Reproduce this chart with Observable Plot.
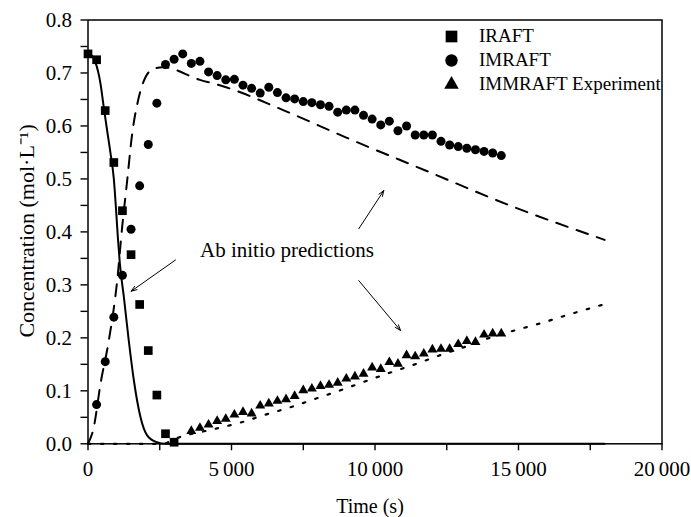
<!DOCTYPE html>
<html>
<head>
<meta charset="utf-8">
<script src="https://cdn.jsdelivr.net/npm/d3@7"></script>
<script src="https://cdn.jsdelivr.net/npm/@observablehq/plot@0.6"></script>
<style>
  html, body { margin: 0; padding: 0; background: #fff; }
  #chart { width: 691px; height: 517px; }
</style>
</head>
<body>
<div id="chart"></div>
<script>
// ---- Data ----
const timeSquare = [0, 300, 600, 900, 1200, 1500, 1800, 2100, 2400, 2700, 3000];
const iraft = [0.736, 0.725, 0.629, 0.531, 0.440, 0.357, 0.263, 0.176, 0.092, 0.019, 0.003];

const timeCircle = [300, 600, 900, 1200, 1500, 1800, 2100, 2400, 2700, 3000, 3300, 3600, 3900, 4200, 4500, 4800, 5100, 5400, 5700, 6000, 6300, 6600, 6900, 7200, 7500, 7800, 8100, 8400, 8700, 9000, 9300, 9600, 9900, 10200, 10500, 10800, 11100, 11400, 11700, 12000, 12300, 12600, 12900, 13200, 13500, 13800, 14100, 14400];
const imraft = [0.074, 0.155, 0.239, 0.318, 0.405, 0.487, 0.565, 0.643, 0.716, 0.726, 0.736, 0.718, 0.722, 0.702, 0.695, 0.687, 0.688, 0.677, 0.671, 0.662, 0.673, 0.663, 0.653, 0.651, 0.646, 0.644, 0.640, 0.637, 0.626, 0.630, 0.630, 0.620, 0.613, 0.602, 0.609, 0.591, 0.600, 0.583, 0.583, 0.583, 0.571, 0.564, 0.561, 0.558, 0.555, 0.552, 0.549, 0.544];

const timeTriangle = [3600, 3900, 4200, 4500, 4800, 5100, 5400, 5700, 6000, 6300, 6600, 6900, 7200, 7500, 7800, 8100, 8400, 8700, 9000, 9300, 9600, 9900, 10200, 10500, 10800, 11100, 11400, 11700, 12000, 12300, 12600, 12900, 13200, 13500, 13800, 14100, 14400];
const immraft = [0.024, 0.030, 0.036, 0.043, 0.047, 0.055, 0.060, 0.057, 0.072, 0.076, 0.081, 0.084, 0.090, 0.101, 0.104, 0.109, 0.111, 0.115, 0.123, 0.127, 0.132, 0.144, 0.141, 0.154, 0.151, 0.167, 0.165, 0.170, 0.178, 0.179, 0.179, 0.188, 0.194, 0.192, 0.206, 0.208, 0.208];

// Ab initio prediction curves
const predIraftTime = [0, 260, 435, 550, 670, 780, 900, 980, 1040, 1110, 1250, 1420, 1600, 1830, 2060, 2400, 2700, 18000];
const predIraft = [0.740, 0.720, 0.680, 0.635, 0.590, 0.550, 0.500, 0.440, 0.390, 0.340, 0.277, 0.195, 0.119, 0.050, 0.016, 0.003, 0.000, 0.000];

const predImraftTime = [0, 200, 435, 725, 1017, 1190, 1365, 1539, 1770, 2003, 2293, 2600, 3900, 4700, 6800, 9000, 11800, 14600, 18000];
const predImraft = [0.000, 0.031, 0.113, 0.195, 0.308, 0.409, 0.497, 0.585, 0.654, 0.692, 0.708, 0.711, 0.687, 0.675, 0.630, 0.578, 0.515, 0.452, 0.385];

const predImmraftTime = [0, 2600, 3050, 4417, 5313, 6184, 7055, 7926, 8797, 9668, 10563, 11445, 12306, 13187, 14048, 14929, 15800, 16695, 17577, 18030];
const predImmraft = [0.000, 0.000, 0.010, 0.028, 0.040, 0.055, 0.069, 0.085, 0.101, 0.118, 0.135, 0.151, 0.168, 0.184, 0.201, 0.215, 0.228, 0.243, 0.257, 0.264];

// Axes
const xTicks = [0, 5000, 10000, 15000, 20000];
const xTickLabels = ["0", "5\u2009000", "10\u2009000", "15\u2009000", "20\u2009000"];
const xMinorTicks = [2500, 7500, 12500, 17500];
const yTicks = [0, 0.1, 0.2, 0.3, 0.4, 0.5, 0.6, 0.7, 0.8];
const yTickLabels = ["0.0", "0.1", "0.2", "0.3", "0.4", "0.5", "0.6", "0.7", "0.8"];
const yMinorTicks = [0.05, 0.15, 0.25, 0.35, 0.45, 0.55, 0.65, 0.75];

// Legend
const legendLabels = ["IRAFT", "IMRAFT", "IMMRAFT Experiment"];
const legendSymbols = ["square", "circle", "triangle"];

// Annotation
const annotationText = ["Ab initio predictions"];
const annotationTextX = [6930];
const annotationTextY = [0.365];
const arrowX1 = [3049, 9435, 9435];
const arrowY1 = [0.347, 0.406, 0.308];
const arrowX2 = [1505, 10306, 10888];
const arrowY2 = [0.288, 0.478, 0.214];

// ---- Build tables ----
const sq = timeSquare.map((t, i) => ({t, v: iraft[i]}));
const ci = timeCircle.map((t, i) => ({t, v: imraft[i]}));
const tr = timeTriangle.map((t, i) => ({t, v: immraft[i]}));
const p1 = predIraftTime.map((t, i) => ({t, v: predIraft[i]}));
const p2 = predImraftTime.map((t, i) => ({t, v: predImraft[i]}));
const p3 = predImmraftTime.map((t, i) => ({t, v: predImmraft[i]}));
const arrows = arrowX1.map((x1, i) => ({x1, y1: arrowY1[i], x2: arrowX2[i], y2: arrowY2[i]}));
const ann = annotationText.map((s, i) => ({s, x: annotationTextX[i], y: annotationTextY[i]}));

const legendRows = legendLabels.map((label, i) => ({label, symbol: legendSymbols[i], i}));
const legendR = {square: 6.6, circle: 6.2, triangle: 5.4};
const legendDy = [16.5, 40.5, 64.5];

const FONT = "Liberation Serif, Times New Roman, serif";

const marks = [
  Plot.frame({stroke: "black", strokeWidth: 1.5}),
  // axes
  Plot.axisX({ticks: xTicks, tickSize: 7, tickPadding: 10, strokeWidth: 1.4,
    tickFormat: d => xTickLabels[xTicks.indexOf(d)], label: null}),
  Plot.axisX({ticks: xMinorTicks, tickSize: 7, strokeWidth: 1.4, tickFormat: () => "", label: null}),
  Plot.axisY({ticks: yTicks, tickSize: 7, tickPadding: 9, strokeWidth: 1.4,
    tickFormat: d => yTickLabels[yTicks.findIndex(v => Math.abs(v - d) < 1e-9)], label: null}),
  Plot.axisY({ticks: yMinorTicks, tickSize: 7, strokeWidth: 1.4, tickFormat: () => "", label: null}),
  // prediction lines
  Plot.line(p3, {x: "t", y: "v", stroke: "black", strokeWidth: 2.2, strokeDasharray: "2.5,10.5", curve: "monotone-x"}),
  Plot.line(p2, {x: "t", y: "v", stroke: "black", strokeWidth: 2, strokeDasharray: "12,9.5", curve: "monotone-x"}),
  Plot.line(p1, {x: "t", y: "v", stroke: "black", strokeWidth: 2, curve: "monotone-x"}),
  // data
  Plot.dot(sq, {x: "t", y: "v", symbol: "square", r: 4.9, fill: "black"}),
  Plot.dot(ci, {x: "t", y: "v", symbol: "circle", r: 4.5, fill: "black"}),
  Plot.dot(tr, {x: "t", y: "v", symbol: "triangle", r: 3.7, fill: "black"}),
  // annotation
  Plot.arrow(arrows, {x1: "x1", y1: "y1", x2: "x2", y2: "y2", stroke: "black", strokeWidth: 1, headLength: 9, headAngle: 40}),
  Plot.text(ann, {x: "x", y: "y", text: "s", fontSize: 21, fontFamily: FONT, fill: "black", textAnchor: "middle", lineAnchor: "middle"}),
  // axis titles
  Plot.text(["Time (s)"], {text: d => d, frameAnchor: "bottom", textAnchor: "middle", dx: -5, dy: 69.5, lineAnchor: "bottom", fontSize: 20, fontFamily: FONT, fill: "black"}),
  Plot.text(["Concentration (mol\u00B7L\u207B\u00B9)"], {text: d => d, frameAnchor: "left", textAnchor: "middle", dx: -54.5, dy: -1, rotate: -90, lineAnchor: "bottom", fontSize: 22, fontFamily: FONT, fill: "black"}),
];

// legend
legendRows.forEach(row => {
  marks.push(Plot.dot([row], {frameAnchor: "top-right", dx: -210.5, dy: legendDy[row.i], symbol: row.symbol, r: legendR[row.symbol], fill: "black"}));
  marks.push(Plot.text([row], {frameAnchor: "top-right", text: "label", dx: -183, dy: legendDy[row.i] - 0.5, textAnchor: "start", lineAnchor: "middle", fontSize: 19, fontFamily: FONT, fill: "black"}));
});

const chart = Plot.plot({
  width: 691,
  height: 517,
  marginLeft: 87.5,
  marginRight: 29.5,
  marginTop: 19.5,
  marginBottom: 73.7,
  x: {domain: [0, 20000]},
  y: {domain: [0, 0.8]},
  style: {fontFamily: FONT, fontSize: "21px", color: "black", background: "white", overflow: "visible"},
  marks
});
document.getElementById("chart").appendChild(chart);
</script>
</body>
</html>
